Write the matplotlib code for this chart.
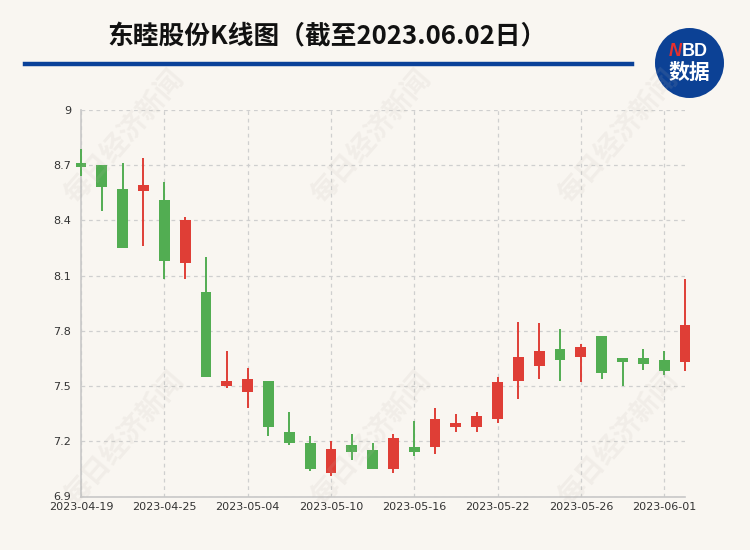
import matplotlib
matplotlib.use("Agg")
import matplotlib.pyplot as plt
from matplotlib.patches import Ellipse

# ---- data ----
dates = ['2023-04-19', '2023-04-20', '2023-04-21', '2023-04-24', '2023-04-25',
         '2023-04-26', '2023-04-27', '2023-04-28', '2023-05-04', '2023-05-05',
         '2023-05-08', '2023-05-09', '2023-05-10', '2023-05-11', '2023-05-12',
         '2023-05-15', '2023-05-16', '2023-05-17', '2023-05-18', '2023-05-19',
         '2023-05-22', '2023-05-23', '2023-05-24', '2023-05-25', '2023-05-26',
         '2023-05-29', '2023-05-30', '2023-05-31', '2023-06-01', '2023-06-02']
opens = [8.71, 8.70, 8.57, 8.56, 8.51, 8.17, 8.01, 7.50, 7.47, 7.53,
         7.25, 7.19, 7.03, 7.18, 7.15, 7.05, 7.17, 7.17, 7.28, 7.28,
         7.32, 7.53, 7.61, 7.70, 7.66, 7.77, 7.65, 7.65, 7.64, 7.63]
highs = [8.79, 8.70, 8.71, 8.74, 8.61, 8.42, 8.20, 7.69, 7.60, 7.53,
         7.36, 7.23, 7.20, 7.24, 7.19, 7.24, 7.31, 7.38, 7.35, 7.36,
         7.55, 7.85, 7.84, 7.81, 7.73, 7.77, 7.65, 7.70, 7.69, 8.08]
lows = [8.64, 8.45, 8.25, 8.26, 8.08, 8.08, 7.55, 7.49, 7.38, 7.23,
        7.18, 7.04, 7.01, 7.10, 7.05, 7.03, 7.12, 7.13, 7.25, 7.25,
        7.30, 7.43, 7.54, 7.53, 7.52, 7.54, 7.50, 7.59, 7.56, 7.58]
closes = [8.69, 8.58, 8.25, 8.59, 8.18, 8.40, 7.55, 7.53, 7.54, 7.28,
          7.19, 7.05, 7.16, 7.14, 7.05, 7.22, 7.14, 7.32, 7.30, 7.34,
          7.52, 7.66, 7.69, 7.64, 7.71, 7.57, 7.63, 7.62, 7.58, 7.83]
ytick_vals = [6.9, 7.2, 7.5, 7.8, 8.1, 8.4, 8.7, 9.0]
ytick_labels = ['6.9', '7.2', '7.5', '7.8', '8.1', '8.4', '8.7', '9']
label_every = 4

title = '东睦股份K线图（截至2023.06.02日）'
watermark = '每日经济新闻'

# ---- style ----
bg = '#f9f6f1'
up_col = '#df3e36'
down_col = '#52ad52'
grid_col = '#cfcfcf'
text_col = '#333333'

fig = plt.figure(figsize=(7.5, 5.5), dpi=100, facecolor=bg)
ax = fig.add_axes([81 / 750, 1 - 496.5 / 550, 604 / 750, 386.5 / 550])
ax.set_facecolor(bg)

x = list(range(len(dates)))
colors = [up_col if c >= o else down_col for o, c in zip(opens, closes)]
bottoms = [min(o, c) for o, c in zip(opens, closes)]
heights = [max(abs(c - o), 0.008) for o, c in zip(opens, closes)]

ax.vlines(x, lows, highs, colors=colors, linewidth=1.4, zorder=3, clip_on=False)
ax.bar(x, heights, bottom=bottoms, width=0.52, color=colors, zorder=4, clip_on=False)

ax.set_xlim(0, len(dates) - 1)
ax.set_ylim(6.9, 9.0)

ax.set_yticks(ytick_vals)
ax.set_yticklabels(ytick_labels)
ax.set_xticks(x[::label_every])
ax.set_xticklabels(dates[::label_every])
ax.tick_params(length=0, colors=text_col, labelsize=8)
ax.tick_params(axis='y', pad=7)
ax.tick_params(axis='x', pad=4)

ax.set_axisbelow(True)
ax.grid(True, color=grid_col, linestyle=(0, (3, 3)), linewidth=0.9)

for s in ['top', 'right']:
    ax.spines[s].set_visible(False)
for s in ['left', 'bottom']:
    ax.spines[s].set_color('#c8c8c8')
    ax.spines[s].set_linewidth(1.2)

# ---- title, rule, logo ----
fig.text(327 / 750, 1 - 37 / 550, title, ha='center', va='center',
         fontsize=18.5, fontweight='bold', color='#111111',
         family=['Noto Sans CJK SC', 'DejaVu Sans'])
fig.add_artist(plt.Line2D([25 / 750, 632 / 750], [1 - 63.5 / 550] * 2,
                          color='#0a4199', linewidth=3.2,
                          transform=fig.transFigure))
fig.add_artist(Ellipse((689.5 / 750, 1 - 63 / 550), 69 / 750, 70 / 550,
                       transform=fig.transFigure, facecolor='#0c4195',
                       edgecolor='none'))
fig.text(682 / 750, 1 - 51 / 550, 'N', ha='right', va='center', fontsize=13,
         fontweight='bold', style='italic', color='#e8302e',
         family='Liberation Sans')
fig.text(682 / 750, 1 - 51 / 550, 'BD', ha='left', va='center', fontsize=13,
         fontweight='bold', color='white', family='Liberation Sans')
fig.text(689.5 / 750, 1 - 72 / 550, '数据', ha='center', va='center',
         fontsize=15, fontweight='bold', color='white',
         family=['Noto Sans CJK SC', 'DejaVu Sans'])

# ---- watermarks ----
for cx in [125, 372, 619]:
    for cy in [138, 440]:
        fig.text(cx / 750, 1 - cy / 550, watermark, ha='center', va='center',
                 rotation=49, fontsize=20, fontweight='bold', color='#bdb6ac',
                 alpha=0.13, family=['Noto Sans CJK SC', 'DejaVu Sans'],
                 zorder=10)

fig.savefig('out.png', dpi=100, facecolor=bg)
